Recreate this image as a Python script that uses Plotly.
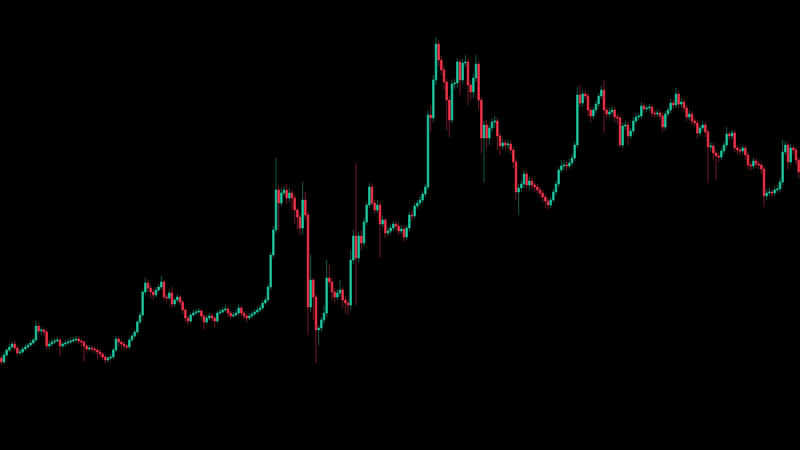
import plotly.graph_objects as go

# Candle index (one bar per period)
candle_index = list(range(300))

open_ = [92, 88, 95, 100, 103, 106, 102, 97, 98, 101, 103, 105, 107, 110, 124, 119, 120, 118, 104, 106,
         108, 109, 110, 104, 106, 107, 108, 109, 110, 111, 109, 108, 104, 101, 102, 101, 100, 98, 96, 93,
         90, 92, 93, 100, 111, 108, 106, 104, 103, 110, 114, 118, 128, 135, 158, 167, 162, 158, 155, 160,
         163, 168, 153, 152, 157, 146, 150, 153, 148, 140, 132, 129, 135, 137, 138, 139, 134, 128, 132, 134,
         132, 129, 137, 138, 140, 141, 137, 134, 135, 137, 142, 137, 134, 132, 134, 136, 138, 140, 142, 147,
         150, 163, 195, 220, 260, 247, 257, 260, 252, 257, 252, 240, 233, 222, 250, 235, 143, 170, 153, 120,
         122, 130, 137, 172, 168, 158, 153, 157, 160, 150, 147, 145, 190, 214, 192, 214, 207, 228, 245, 263,
         247, 240, 245, 226, 230, 217, 219, 222, 226, 224, 219, 221, 213, 222, 235, 234, 244, 247, 250, 256,
         263, 335, 332, 370, 406, 390, 380, 368, 350, 330, 366, 367, 388, 370, 387, 388, 365, 358, 372, 386,
         350, 312, 325, 312, 322, 328, 329, 314, 304, 307, 305, 306, 300, 288, 258, 262, 266, 276, 265, 269,
         265, 263, 260, 257, 253, 249, 245, 250, 258, 266, 280, 284, 285, 284, 287, 292, 305, 355, 347, 356,
         354, 340, 334, 340, 346, 354, 360, 340, 336, 338, 340, 333, 332, 305, 324, 325, 314, 319, 329, 333,
         334, 344, 341, 342, 343, 337, 336, 337, 334, 323, 336, 340, 347, 345, 356, 346, 348, 342, 333, 336,
         329, 327, 317, 322, 325, 318, 303, 304, 297, 294, 293, 299, 305, 316, 314, 317, 302, 300, 299, 302,
         295, 285, 284, 289, 286, 285, 281, 254, 257, 258, 257, 260, 261, 268, 298, 305, 288, 302, 300, 290]

close = [88, 95, 100, 103, 106, 102, 97, 98, 101, 103, 105, 107, 110, 124, 119, 120, 118, 104, 106, 108,
         109, 110, 104, 106, 107, 108, 109, 110, 111, 109, 108, 104, 101, 102, 101, 100, 98, 96, 93, 90,
         92, 93, 100, 111, 108, 106, 104, 103, 110, 114, 118, 128, 135, 158, 167, 162, 158, 155, 160, 163,
         168, 153, 152, 157, 146, 150, 153, 148, 140, 132, 129, 135, 137, 138, 139, 134, 128, 132, 134, 132,
         129, 137, 138, 140, 141, 137, 134, 135, 137, 142, 137, 134, 132, 134, 136, 138, 140, 142, 147, 150,
         163, 195, 220, 260, 247, 257, 260, 252, 257, 252, 240, 233, 222, 250, 235, 143, 170, 153, 120, 122,
         130, 137, 172, 168, 158, 153, 157, 160, 150, 147, 145, 190, 214, 192, 214, 207, 228, 245, 263, 247,
         240, 245, 226, 230, 217, 219, 222, 226, 224, 219, 221, 213, 222, 235, 234, 244, 247, 250, 256, 263,
         335, 332, 370, 406, 390, 380, 368, 350, 330, 366, 367, 388, 370, 387, 388, 365, 358, 372, 386, 350,
         312, 325, 312, 322, 328, 329, 314, 304, 307, 305, 306, 300, 288, 258, 262, 266, 276, 265, 269, 265,
         263, 260, 257, 253, 249, 245, 250, 258, 266, 280, 284, 285, 284, 287, 292, 305, 355, 347, 356, 354,
         340, 334, 340, 346, 354, 360, 340, 336, 338, 340, 333, 332, 305, 324, 325, 314, 319, 329, 333, 334,
         344, 341, 342, 343, 337, 336, 337, 334, 323, 336, 340, 347, 345, 356, 346, 348, 342, 333, 336, 329,
         327, 317, 322, 325, 318, 303, 304, 297, 294, 293, 299, 305, 316, 314, 317, 302, 300, 299, 302, 295,
         285, 284, 289, 286, 285, 281, 254, 257, 258, 257, 260, 261, 268, 298, 305, 288, 302, 300, 290, 278]

high = [95, 98, 102, 106, 108, 109, 104, 101, 103, 106, 107, 110, 112, 129, 127, 123, 122, 120, 109, 111,
        112, 113, 112, 108, 110, 111, 112, 113, 114, 114, 111, 110, 106, 105, 104, 103, 102, 100, 98, 95,
        94, 96, 102, 114, 113, 110, 108, 106, 112, 116, 120, 130, 138, 160, 172, 170, 165, 161, 163, 166,
        174, 170, 156, 160, 163, 152, 156, 155, 150, 142, 134, 137, 140, 141, 142, 141, 136, 135, 137, 137,
        134, 139, 141, 143, 145, 143, 139, 138, 140, 146, 144, 139, 136, 137, 139, 141, 143, 145, 150, 153,
        166, 198, 224, 292, 265, 262, 264, 266, 262, 260, 255, 243, 236, 268, 258, 238, 195, 172, 156, 125,
        133, 145, 190, 185, 172, 162, 161, 170, 163, 154, 150, 200, 220, 287, 218, 220, 232, 248, 267, 266,
        250, 250, 248, 234, 232, 223, 226, 229, 229, 227, 225, 224, 225, 238, 240, 247, 250, 254, 259, 266,
        340, 345, 375, 413, 410, 394, 384, 371, 354, 370, 371, 392, 391, 391, 395, 391, 368, 376, 395, 389,
        353, 329, 330, 325, 332, 334, 332, 317, 311, 310, 310, 309, 303, 291, 266, 270, 280, 279, 273, 272,
        268, 266, 263, 260, 256, 252, 253, 261, 269, 283, 290, 290, 289, 291, 296, 309, 363, 365, 360, 360,
        357, 343, 343, 349, 357, 364, 370, 343, 342, 344, 343, 336, 335, 327, 329, 328, 322, 333, 337, 337,
        348, 347, 345, 346, 345, 340, 341, 340, 337, 339, 343, 351, 350, 362, 359, 352, 351, 345, 340, 339,
        332, 330, 325, 329, 328, 321, 308, 307, 300, 297, 302, 308, 323, 319, 320, 320, 304, 303, 305, 305,
        298, 288, 292, 292, 289, 288, 284, 261, 262, 261, 264, 265, 272, 310, 309, 308, 306, 305, 303, 293]

low = [85, 86, 93, 98, 101, 99, 94, 95, 96, 99, 101, 103, 105, 108, 116, 115, 114, 100, 101, 104,
       106, 107, 94, 102, 103, 105, 106, 107, 108, 106, 104, 88, 97, 99, 98, 97, 91, 93, 90, 87,
       88, 90, 91, 98, 104, 102, 100, 100, 101, 108, 112, 116, 126, 133, 155, 158, 152, 150, 153, 158,
       160, 150, 148, 150, 142, 143, 148, 145, 136, 128, 125, 127, 133, 135, 136, 131, 120, 126, 130, 129,
       123, 127, 135, 136, 138, 133, 131, 132, 133, 135, 134, 131, 128, 130, 132, 134, 136, 138, 140, 145,
       148, 160, 192, 217, 220, 244, 254, 246, 248, 240, 226, 220, 215, 215, 230, 115, 138, 130, 87, 105,
       118, 126, 133, 163, 150, 148, 150, 153, 142, 137, 135, 140, 186, 145, 188, 200, 204, 225, 242, 244,
       236, 237, 192, 222, 212, 214, 216, 219, 220, 215, 216, 208, 210, 219, 229, 231, 241, 244, 247, 253,
       260, 318, 328, 365, 383, 375, 360, 320, 313, 327, 361, 362, 355, 366, 383, 345, 350, 352, 368, 340,
       297, 267, 302, 305, 318, 322, 300, 295, 300, 300, 301, 296, 282, 250, 235, 258, 262, 261, 260, 261,
       258, 256, 252, 248, 242, 240, 242, 248, 255, 263, 277, 280, 279, 281, 284, 289, 302, 343, 343, 350,
       333, 328, 331, 337, 343, 351, 317, 331, 333, 335, 328, 326, 303, 302, 320, 305, 311, 316, 326, 330,
       331, 337, 338, 339, 333, 332, 333, 330, 318, 320, 333, 337, 341, 342, 342, 343, 338, 329, 330, 325,
       323, 312, 314, 319, 313, 267, 299, 290, 270, 288, 290, 296, 302, 310, 311, 298, 296, 295, 296, 290,
       280, 279, 281, 282, 281, 276, 243, 250, 254, 253, 254, 257, 258, 265, 295, 280, 285, 296, 285, 272]

UP_BODY = "#1fc9a0"
DOWN_BODY = "#f5344f"
UP_WICK = "#0f5a48"
DOWN_WICK = "#6e1a26"

body_top = [max(o, c) for o, c in zip(open_, close)]
body_bot = [min(o, c) for o, c in zip(open_, close)]

fig = go.Figure()

# wicks (dim)
fig.add_trace(go.Candlestick(
    x=candle_index, open=open_, high=high, low=low, close=close,
    increasing=dict(line=dict(color=UP_WICK, width=1), fillcolor=UP_WICK),
    decreasing=dict(line=dict(color=DOWN_WICK, width=1), fillcolor=DOWN_WICK),
    whiskerwidth=0, hoverinfo="skip", showlegend=False,
))

# bodies (bright)
fig.add_trace(go.Candlestick(
    x=candle_index, open=open_, high=body_top, low=body_bot, close=close,
    increasing=dict(line=dict(color=UP_BODY, width=0.5), fillcolor=UP_BODY),
    decreasing=dict(line=dict(color=DOWN_BODY, width=0.5), fillcolor=DOWN_BODY),
    whiskerwidth=0, showlegend=False,
))

fig.update_layout(
    width=800, height=450,
    margin=dict(l=0, r=0, t=0, b=0),
    paper_bgcolor="#000000",
    plot_bgcolor="#000000",
    showlegend=False,
    boxgap=0.2,
    xaxis=dict(range=[-0.5, 299.5], visible=False, showgrid=False,
               rangeslider=dict(visible=False), fixedrange=True),
    yaxis=dict(range=[0, 450], visible=False, showgrid=False, fixedrange=True),
)

fig.write_html("out.html")
